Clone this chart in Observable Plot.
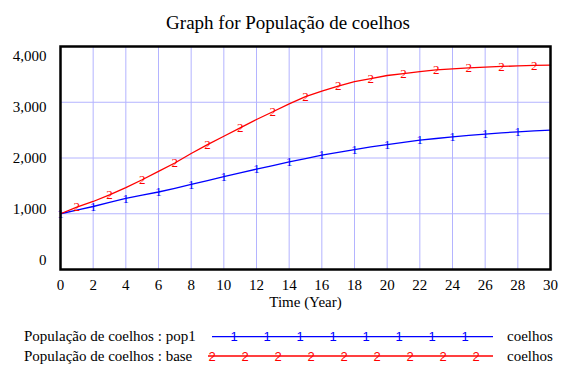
<!DOCTYPE html>
<html><head><meta charset="utf-8">
<script src="https://cdn.jsdelivr.net/npm/d3@7"></script>
<script src="https://cdn.jsdelivr.net/npm/@observablehq/plot@0.6"></script>
<style>
body{margin:0;background:#fff;font-family:'Liberation Serif','DejaVu Serif',serif;}
#title{height:40px;box-sizing:border-box;padding-top:13px;line-height:19px;font-size:19px;text-align:center;color:#000;font-family:'Liberation Serif','DejaVu Serif',serif;}
#chart svg,#legend svg{display:block;}
#chart svg text{font-family:'Liberation Serif','DejaVu Serif',serif;font-weight:normal;}
#chart svg text.marker,#legend svg text.marker{font-family:'Liberation Sans','DejaVu Sans',sans-serif;}
</style></head><body>
<div id="title">Graph for População de coelhos</div>
<div id="chart"></div>
<div id="legend"></div>
<script>
const years = [0,1,2,3,4,5,6,7,8,9,10,11,12,13,14,15,16,17,18,19,20,21,22,23,24,25,26,27,28,29,30];
const pop1 = [1000,1065,1130,1205,1275,1335,1390,1455,1525,1595,1665,1735,1800,1865,1930,1990,2050,2100,2150,2200,2240,2280,2320,2350,2380,2405,2430,2450,2470,2485,2500];
const base = [1000,1120,1220,1340,1470,1610,1760,1910,2080,2240,2390,2540,2690,2830,2970,3100,3200,3290,3370,3425,3480,3515,3550,3580,3600,3618,3630,3642,3652,3660,3665];
const xTicks = [0,2,4,6,8,10,12,14,16,18,20,22,24,26,28,30];
const yTicks = [0,1000,2000,3000,4000];
const seriesNames = ["População de coelhos : pop1","População de coelhos : base"];
const seriesMarkers = ["1","2"];
const seriesColors = ["#0000ff","#ff0000"];
const unitLabel = "coelhos";

const rows = years.map((t,i)=>({t, pop1: pop1[i], base: base[i]}));
const fmt = d3.format(",");
const grid = "#b4b4ff";
const serif = "'Liberation Serif','DejaVu Serif',serif";
const sans = "'Liberation Sans','DejaVu Sans',sans-serif";

const yAxisMarks = yTicks.map(v => Plot.axisY([v], {
  tickSize: 0, tickPadding: 14, tickFormat: fmt,
  dy: 9.5 - (4000 - v) / 1000 * 4.6, label: null
}));

const chart = Plot.plot({
  width: 576, height: 270,
  marginTop: 6, marginBottom: 41, marginLeft: 60, marginRight: 26,
  style: {fontFamily: serif, fontSize: "15px", color: "#000", background: "#fff"},
  x: {domain: [0,30]},
  y: {domain: [0,4000]},
  marks: [
    Plot.gridX(xTicks.filter(v => v > 0 && v < 30), {stroke: grid, strokeOpacity: 1}),
    Plot.gridY(yTicks.filter(v => v > 0 && v < 4000), {stroke: grid, strokeOpacity: 1}),
    ...yAxisMarks,
    Plot.axisX(xTicks, {tickSize: 0, tickPadding: 10, tickFormat: d => String(d), label: "Time (Year)", labelAnchor: "center", labelArrow: "none", labelOffset: 37}),
    Plot.line(rows, {x: "t", y: "pop1", stroke: seriesColors[0], strokeWidth: 1.3}),
    Plot.line(rows, {x: "t", y: "base", stroke: seriesColors[1], strokeWidth: 1.3}),
    Plot.text(rows, {filter: d => d.t % 2 === 0 && d.t < 30, x: "t", y: "pop1", text: () => seriesMarkers[0], fill: seriesColors[0], fontSize: 13, fontFamily: sans, className: "marker"}),
    Plot.text(rows, {filter: d => d.t % 2 === 1, x: "t", y: "base", text: () => seriesMarkers[1], fill: seriesColors[1], fontSize: 13, fontFamily: sans, className: "marker"}),
    Plot.frame({stroke: "#000", strokeWidth: 2.5})
  ]
});
chart.querySelectorAll("text").forEach(t => { if (!t.closest("g[aria-label='text']")) { t.style.fontFamily = serif; t.style.fontWeight = "normal"; } });
document.getElementById("chart").appendChild(chart);

// Legend
const lg = d3.select("#legend").append("svg").attr("width", 576).attr("height", 74);
const legendRows = [
  {name: seriesNames[0], color: seriesColors[0], marker: seriesMarkers[0], x0: 212, first: 234, count: 8, y: 26.7, base: 31},
  {name: seriesNames[1], color: seriesColors[1], marker: seriesMarkers[1], x0: 208, first: 212, count: 9, y: 46, base: 51}
];
legendRows.forEach(r => {
  lg.append("text").attr("x", 24).attr("y", r.base).style("font-size", "15px")
    .style("font-family", serif).text(r.name);
  lg.append("line").attr("x1", r.x0).attr("x2", 493).attr("y1", r.y).attr("y2", r.y)
    .attr("stroke", r.color).attr("stroke-width", 1.3);
  for (let k = 0; k < r.count; k++) {
    lg.append("text").attr("class", "marker").attr("x", r.first + 33 * k).attr("y", r.y).attr("dy", "0.35em")
      .attr("text-anchor", "middle").style("font-size", "13px")
      .style("font-family", sans).attr("fill", r.color).text(r.marker);
  }
  lg.append("text").attr("x", 507).attr("y", r.base).style("font-size", "15px")
    .style("font-family", serif).text(unitLabel);
});
</script>
</body></html>
